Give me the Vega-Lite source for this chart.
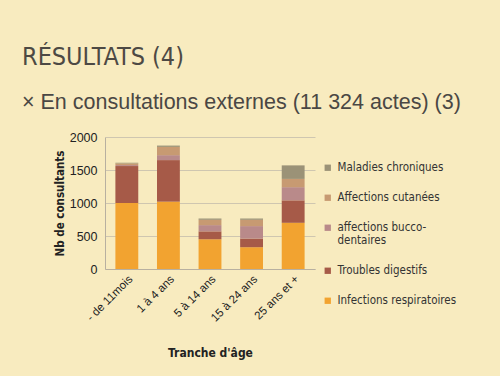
{
  "$schema": "https://vega.github.io/schema/vega-lite/v6.json",
  "autosize": "none",
  "width": 210,
  "height": 132,
  "padding": {"left": 105, "top": 137, "right": 185, "bottom": 107},
  "background": "#f8ebbf",
  "title": {
    "text": "RÉSULTATS (4)",
    "subtitle": "×  En consultations externes (11 324 actes) (3)",
    "anchor": "start",
    "frame": "group",
    "dx": -83,
    "offset": 18,
    "font": "'DejaVu Sans Condensed', 'Liberation Sans', sans-serif",
    "fontSize": 25,
    "fontWeight": "normal",
    "color": "#4d4944",
    "subtitleFont": "Liberation Sans",
    "subtitleFontSize": 21.5,
    "subtitleColor": "#4a4744",
    "subtitlePadding": 22
  },
  "data": {
    "values": [
      {"age": "- de 11mois", "cat": "Infections respiratoires", "rank": 1, "n": 1000},
      {"age": "- de 11mois", "cat": "Troubles digestifs", "rank": 2, "n": 560},
      {"age": "- de 11mois", "cat": "affections bucco-dentaires", "rank": 3, "n": 15},
      {"age": "- de 11mois", "cat": "Affections cutanées", "rank": 4, "n": 25},
      {"age": "- de 11mois", "cat": "Maladies chroniques", "rank": 5, "n": 10},
      {"age": "1 à 4 ans", "cat": "Infections respiratoires", "rank": 1, "n": 1020},
      {"age": "1 à 4 ans", "cat": "Troubles digestifs", "rank": 2, "n": 630},
      {"age": "1 à 4 ans", "cat": "affections bucco-dentaires", "rank": 3, "n": 75},
      {"age": "1 à 4 ans", "cat": "Affections cutanées", "rank": 4, "n": 125},
      {"age": "1 à 4 ans", "cat": "Maladies chroniques", "rank": 5, "n": 20},
      {"age": "5 à 14 ans", "cat": "Infections respiratoires", "rank": 1, "n": 450},
      {"age": "5 à 14 ans", "cat": "Troubles digestifs", "rank": 2, "n": 120},
      {"age": "5 à 14 ans", "cat": "affections bucco-dentaires", "rank": 3, "n": 95},
      {"age": "5 à 14 ans", "cat": "Affections cutanées", "rank": 4, "n": 80},
      {"age": "5 à 14 ans", "cat": "Maladies chroniques", "rank": 5, "n": 20},
      {"age": "15 à 24 ans", "cat": "Infections respiratoires", "rank": 1, "n": 330},
      {"age": "15 à 24 ans", "cat": "Troubles digestifs", "rank": 2, "n": 130},
      {"age": "15 à 24 ans", "cat": "affections bucco-dentaires", "rank": 3, "n": 190},
      {"age": "15 à 24 ans", "cat": "Affections cutanées", "rank": 4, "n": 95},
      {"age": "15 à 24 ans", "cat": "Maladies chroniques", "rank": 5, "n": 20},
      {"age": "25 ans et +", "cat": "Infections respiratoires", "rank": 1, "n": 700},
      {"age": "25 ans et +", "cat": "Troubles digestifs", "rank": 2, "n": 340},
      {"age": "25 ans et +", "cat": "affections bucco-dentaires", "rank": 3, "n": 200},
      {"age": "25 ans et +", "cat": "Affections cutanées", "rank": 4, "n": 125},
      {"age": "25 ans et +", "cat": "Maladies chroniques", "rank": 5, "n": 205}
    ]
  },
  "mark": {"type": "bar", "stroke": null},
  "encoding": {
    "x": {
      "field": "age",
      "type": "nominal",
      "sort": null,
      "scale": {"paddingInner": 0.45, "paddingOuter": 0.25},
      "axis": {
        "title": "Tranche d'âge",
        "titleFont": "'DejaVu Sans Condensed', 'Liberation Sans', sans-serif",
        "titleFontSize": 12,
        "titleFontWeight": "bold",
        "titleColor": "#222",
        "titlePadding": 24,
        "labelAngle": -45,
        "labelFont": "Liberation Sans",
        "labelFontSize": 11.5,
        "labelColor": "#222",
        "ticks": false,
        "domainColor": "#b8b0a0",
        "labelPadding": 4
      }
    },
    "y": {
      "field": "n",
      "type": "quantitative",
      "stack": "zero",
      "scale": {"domain": [0, 2000]},
      "axis": {
        "title": "Nb de consultants",
        "titleFont": "'DejaVu Sans Condensed', 'Liberation Sans', sans-serif",
        "titleFontSize": 11.5,
        "titleFontWeight": "bold",
        "titleColor": "#222",
        "values": [0, 500, 1000, 1500, 2000],
        "format": "d",
        "labelFont": "Liberation Sans",
        "labelFontSize": 12.5,
        "labelColor": "#222",
        "ticks": false,
        "labelPadding": 8,
        "domainColor": "#b8b0a0",
        "gridColor": "#cfc6b0",
        "gridWidth": 1
      }
    },
    "color": {
      "field": "cat",
      "type": "nominal",
      "scale": {
        "domain": ["Maladies chroniques", "Affections cutanées", "affections bucco-dentaires", "Troubles digestifs", "Infections respiratoires"],
        "range": ["#9b9277", "#c79a72", "#b98a8a", "#a65a48", "#f2a330"]
      },
      "legend": {
        "title": null,
        "orient": "none",
        "legendX": 217,
        "legendY": 25,
        "symbolType": "square",
        "symbolSize": 40,
        "symbolStrokeWidth": 0,
        "labelFont": "'DejaVu Sans Condensed', 'Liberation Sans', sans-serif",
        "labelFontSize": 11.5,
        "labelColor": "#333",
        "rowPadding": 17,
        "labelLimit": 200,
        "labelExpr": "datum.label == 'affections bucco-dentaires' ? ['affections bucco-', 'dentaires'] : datum.label"
      }
    },
    "order": {"field": "rank", "type": "quantitative"}
  },
  "config": {"view": {"stroke": null}}
}
